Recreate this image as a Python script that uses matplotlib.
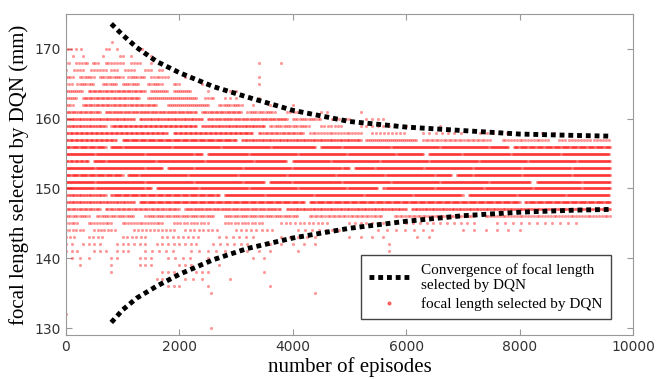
import numpy as np
import matplotlib
matplotlib.use("Agg")
import matplotlib.pyplot as plt
from matplotlib.lines import Line2D

# convergence envelope
curve_x = [800, 1000, 1250, 1600, 2000, 2600, 3200, 4000, 5000, 6000, 7000, 8000, 9000, 9600]
upper_y = [173.6, 172.0, 170.2, 168.2, 166.6, 164.6, 163.1, 161.2, 159.6, 158.8, 158.3, 157.8, 157.6, 157.5]
lower_y = [130.8, 132.6, 134.3, 136.0, 137.7, 139.8, 141.4, 142.9, 144.3, 145.3, 146.1, 146.6, 146.9, 147.0]

# selected focal lengths: for each level, runs of episodes (start, end, spacing)
rows = {
    171: [(810, 810, 1)],
    170: [(30, 90, 60), (180, 260, 80), (700, 760, 60), (900, 900, 1), (1300, 1340, 40)],
    169: [(120, 120, 1), (300, 300, 1), (650, 650, 1), (950, 1000, 50), (1150, 1150, 1), (1500, 1500, 1)],
    168: [(0, 60, 60), (180, 380, 50), (480, 560, 40), (700, 1000, 50), (1150, 1300, 50),
          (1500, 1500, 1), (3400, 3400, 1), (3800, 3800, 1)],
    167: [(0, 0, 1), (150, 300, 50), (450, 700, 50), (800, 900, 50), (1050, 1200, 50),
          (1400, 1500, 50), (1650, 1700, 50)],
    166: [(0, 150, 40), (250, 500, 40), (600, 1000, 40), (1100, 1400, 40), (1500, 1800, 50),
          (2100, 2200, 100), (3400, 3400, 1)],
    165: [(0, 100, 50), (200, 500, 40), (650, 900, 40), (1000, 1300, 40), (1450, 1700, 40),
          (1900, 2000, 50), (2400, 2400, 1), (3400, 3400, 1)],
    164: [(0, 300, 35), (400, 1400, 30), (1500, 1800, 35), (1900, 2200, 35), (2500, 2500, 1),
          (2900, 3000, 100)],
    163: [(0, 200, 35), (300, 1300, 30), (1450, 2300, 35), (2450, 2600, 50), (2800, 3000, 100),
          (3400, 3400, 1)],
    162: [(0, 150, 40), (300, 1600, 30), (1800, 2500, 35), (2700, 3100, 40), (3300, 3300, 1),
          (3600, 3600, 1), (4000, 4000, 1)],
    161: [(0, 600, 30), (700, 2300, 28), (2400, 3100, 30), (3200, 3700, 40), (3900, 4100, 60),
          (4500, 4600, 100), (5200, 5200, 1)],
    160: [(0, 1200, 25), (1300, 2400, 25), (2500, 3900, 28), (4000, 4500, 40), (4700, 5000, 60),
          (5300, 5600, 100)],
    159: [(0, 700, 25), (800, 2300, 22), (2400, 3500, 25), (3600, 4300, 40), (4500, 4900, 60),
          (5200, 5700, 100), (6000, 6000, 1), (6600, 6600, 1)],
    158: [(0, 1800, 22), (1900, 3300, 22), (3400, 4200, 30), (4300, 5200, 50), (5400, 6000, 70),
          (6300, 7000, 110), (7300, 7800, 120), (8400, 8600, 200)],
    157: [(0, 900, 22), (1000, 3000, 20), (3100, 5200, 25), (5300, 6200, 35), (6300, 7500, 45),
          (7700, 8500, 50), (8700, 9600, 55)],
    156: [(0, 700, 20), (800, 4400, 18), (4500, 7800, 18), (7900, 9600, 20)],
    155: [(0, 2400, 18), (2500, 6300, 18), (6400, 9600, 18)],
    154: [(0, 400, 22), (500, 3900, 18), (4000, 9600, 18)],
    153: [(0, 1700, 18), (1800, 5000, 18), (5100, 9600, 18)],
    152: [(0, 1000, 20), (1100, 6800, 18), (6900, 9600, 18)],
    151: [(0, 3500, 18), (3600, 8200, 18), (8300, 9600, 18)],
    150: [(0, 1500, 18), (1600, 5500, 18), (5600, 9600, 18)],
    149: [(0, 700, 25), (800, 2700, 20), (2800, 7000, 18), (7100, 9600, 18)],
    148: [(0, 1200, 25), (1300, 4200, 20), (4300, 8000, 20), (8100, 9600, 20)],
    147: [(0, 600, 30), (700, 2000, 30), (2100, 3800, 28), (3900, 6000, 25), (6100, 9600, 25)],
    146: [(0, 400, 40), (550, 1200, 40), (1400, 2600, 40), (2800, 4100, 40), (4300, 5600, 45),
          (5800, 7200, 45), (7400, 9600, 50)],
    145: [(0, 200, 50), (400, 800, 50), (1000, 1700, 50), (1900, 2500, 60), (2800, 3500, 60),
          (3800, 4600, 80), (5000, 5600, 100), (6000, 7300, 120), (7600, 9000, 140)],
    144: [(0, 300, 60), (500, 900, 60), (1200, 1900, 70), (2100, 2700, 80), (3000, 3700, 90),
          (4100, 4900, 120), (5500, 6500, 160), (7000, 8000, 200)],
    143: [(0, 200, 70), (400, 700, 80), (1000, 1400, 80), (1700, 2400, 90), (2700, 3400, 120),
          (3800, 4400, 150), (5000, 5600, 200), (6200, 6400, 200)],
    142: [(0, 100, 100), (300, 600, 100), (900, 1400, 100), (1600, 2300, 100), (2600, 3200, 120),
          (3600, 4400, 200), (5700, 5700, 1)],
    141: [(0, 200, 100), (500, 700, 100), (900, 1100, 100), (1400, 1900, 120), (2200, 2800, 150),
          (3200, 3600, 200), (4100, 4100, 1), (5700, 5700, 1)],
    140: [(100, 400, 150), (800, 900, 100), (1300, 1500, 100), (1800, 2200, 130), (2500, 2500, 1),
          (3300, 3500, 200)],
    139: [(250, 250, 1), (800, 800, 1), (1300, 1500, 100), (2000, 2200, 100), (2700, 2700, 1)],
    138: [(800, 800, 1), (1700, 1900, 100), (2300, 2500, 100), (3500, 3500, 1)],
    137: [(1600, 1800, 100), (2100, 2400, 150), (2900, 2900, 1)],
    136: [(1800, 2000, 100), (2500, 2500, 1), (3600, 3600, 1)],
    135: [(2550, 2550, 1), (4400, 4400, 1)],
    132: [(0, 0, 1)],
    130: [(2550, 2550, 1)],
}

xs, ys = [], []
for level, runs in rows.items():
    for start, end, step in runs:
        pts = np.arange(start, end + 1, step)
        xs.extend(pts)
        ys.extend([level] * len(pts))

fig = plt.figure(figsize=(6.59, 3.79), dpi=100)
ax = fig.add_axes([0.100, 0.116, 0.8605, 0.847])

ax.scatter(xs, ys, s=5, c='red', alpha=0.4, linewidths=0, marker='o', zorder=2)
dots = dict(color='black', lw=3.5, linestyle=(0, (1, 0.8)), zorder=3)
ax.plot(curve_x, upper_y, **dots)
ax.plot(curve_x, lower_y, **dots)

ax.set_xlim(0, 10000)
ax.set_ylim(129, 175)
ax.set_xticks([0, 2000, 4000, 6000, 8000, 10000])
ax.set_yticks([130, 140, 150, 160, 170])

for s in ax.spines.values():
    s.set_color('#999999')
ax.tick_params(direction='in', top=True, right=True, color='#999999',
               labelsize=10, labelcolor='#333333', length=4)

ax.set_xlabel('number of episodes', family='Liberation Serif', fontsize=15, labelpad=2)
ax.set_ylabel('focal length selected by DQN (mm)', family='Liberation Serif', fontsize=15, labelpad=4)

handles = [
    Line2D([], [], **dots),
    Line2D([], [], color='red', alpha=0.5, marker='o', markersize=2, linestyle='none'),
]
labels = ['Convergence of focal length\nselected by DQN', 'focal length selected by DQN']
leg = ax.legend(handles, labels, loc='lower right', bbox_to_anchor=(0.975, 0.025),
                prop={'family': 'Liberation Serif', 'size': 11}, fancybox=False,
                edgecolor='#444444', framealpha=1, handlelength=2.6, borderpad=0.55,
                labelspacing=0.35)
leg.get_frame().set_linewidth(1)

fig.savefig('out.png', dpi=100)
